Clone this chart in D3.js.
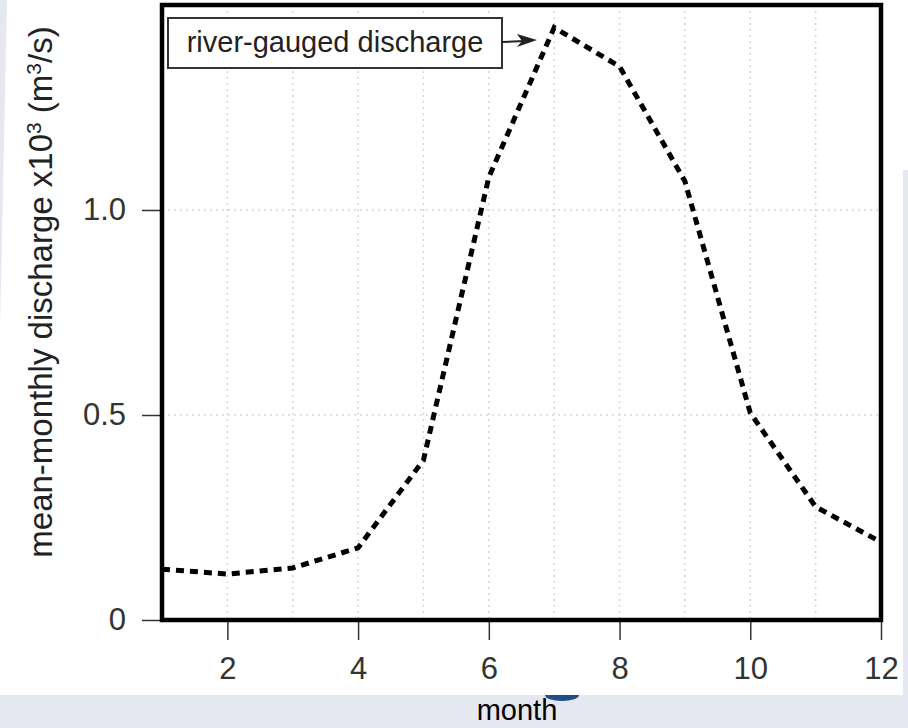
<!DOCTYPE html>
<html>
<head>
<meta charset="utf-8">
<style>
body { margin: 0; background: #e5e7f1; }
text { font-family: "Liberation Sans", Arial, sans-serif; fill: #222; }
.tick line { stroke: #333; stroke-width: 1.5px; }
.tick text { font-size: 31px; fill: #333; }
.grid { stroke: #d6d6d6; stroke-width: 1.5px; stroke-dasharray: 2,4; }
path.flow { fill: none; stroke: #000; stroke-width: 5px; stroke-dasharray: 8,6; }
</style>
</head>
<body>
<script src="https://cdn.jsdelivr.net/npm/d3@7"></script>
<script>

// mean-monthly discharge (x10^3 m^3/s)
var months = [1, 2, 3, 4, 5, 6, 7, 8, 9, 10, 11, 12];
var discharge = [0.124, 0.112, 0.127, 0.176, 0.39, 1.08, 1.445, 1.35, 1.07, 0.505, 0.276, 0.19];

var xTicks = [2, 4, 6, 8, 10, 12];
var yTicks = [0, 0.5, 1.0];
var gridMonths = [2, 3, 4, 5, 6, 7, 8, 9, 10, 11];
var gridLevels = [0.5, 1.0];
var legendLabel = "river-gauged discharge";

var width = 908,
    height = 728;

var svg = d3.select("body").append("svg")
    .attr("width", width)
    .attr("height", height);

// page backdrop (white card on lavender)
svg.append("rect")
    .attr("width", width).attr("height", height)
    .attr("fill", "#e5e7f1");
svg.append("rect")
    .attr("x", 0).attr("y", 0)
    .attr("width", 903).attr("height", 695)
    .attr("fill", "#fff");
svg.append("rect")
    .attr("x", 903).attr("y", 0)
    .attr("width", 5).attr("height", 170)
    .attr("fill", "#fff");
svg.append("polygon")
    .attr("points", "0,0 7,0 0,330")
    .attr("fill", "#e5e7f1");
svg.append("path")
    .attr("d", "M545,695 A17,6 0 0,0 579,695 Z")
    .attr("fill", "#1f4f86");

var x = d3.scaleLinear()
    .domain([1, 12])
    .range([162, 881]);

var y = d3.scaleLinear()
    .domain([0, 1.5])
    .range([620, 5]);

// dotted grid
svg.append("g")
    .selectAll("line")
    .data(gridMonths)
    .enter().append("line")
    .attr("class", "grid")
    .attr("x1", function(d) { return x(d); })
    .attr("x2", function(d) { return x(d); })
    .attr("y1", y.range()[1])
    .attr("y2", y.range()[0]);

svg.append("g")
    .selectAll("line")
    .data(gridLevels)
    .enter().append("line")
    .attr("class", "grid")
    .attr("x1", x.range()[0])
    .attr("x2", x.range()[1])
    .attr("y1", function(d) { return y(d); })
    .attr("y2", function(d) { return y(d); });

// axes
var yAxis = svg.append("g")
    .attr("transform", "translate(" + x.range()[0] + ",0)")
    .call(d3.axisLeft(y)
        .tickValues(yTicks)
        .tickSize(20)
        .tickPadding(16)
        .tickFormat(function(d) { return d === 0 ? "0" : d3.format(".1f")(d); }));
yAxis.select(".domain").remove();

var xAxis = svg.append("g")
    .attr("transform", "translate(0," + y.range()[0] + ")")
    .call(d3.axisBottom(x)
        .tickValues(xTicks)
        .tickSize(20)
        .tickPadding(17));
xAxis.select(".domain").remove();
xAxis.selectAll("text").style("font-family", "'Liberation Sans', Arial, sans-serif");
yAxis.selectAll("text").style("font-family", "'Liberation Sans', Arial, sans-serif");

// the discharge curve
var line = d3.line()
    .x(function(d) { return x(d[0]); })
    .y(function(d) { return y(d[1]); });

svg.append("path")
    .datum(d3.zip(months, discharge))
    .attr("class", "flow")
    .attr("d", line);

// plot frame
svg.append("rect")
    .attr("x", x.range()[0])
    .attr("y", y.range()[1])
    .attr("width", x.range()[1] - x.range()[0])
    .attr("height", y.range()[0] - y.range()[1])
    .attr("fill", "none")
    .attr("stroke", "#000")
    .attr("stroke-width", 4.5);

// legend box + arrow
svg.append("rect")
    .attr("x", 168).attr("y", 18)
    .attr("width", 334).attr("height", 50)
    .attr("fill", "#fff")
    .attr("stroke", "#333")
    .attr("stroke-width", 2);

svg.append("text")
    .attr("x", 335).attr("y", 52)
    .attr("text-anchor", "middle")
    .style("font-size", "29px")
    .text(legendLabel);

svg.append("line")
    .attr("x1", 502).attr("y1", 42)
    .attr("x2", 524).attr("y2", 41)
    .attr("stroke", "#222")
    .attr("stroke-width", 2);

svg.append("path")
    .attr("d", "M537,40 L517,34 L522,41 L517,47 Z")
    .attr("fill", "#222");

// axis titles
var yTitle = svg.append("text")
    .attr("transform", "translate(52,292) rotate(-90)")
    .attr("text-anchor", "middle")
    .style("font-size", "33px");
yTitle.append("tspan").text("mean-monthly discharge x10");
yTitle.append("tspan").attr("baseline-shift", "super").style("font-size", "21px").text("3");
yTitle.append("tspan").text(" (m");
yTitle.append("tspan").attr("baseline-shift", "super").style("font-size", "21px").text("3");
yTitle.append("tspan").text("/s)");

svg.append("text")
    .attr("x", 517).attr("y", 720)
    .attr("text-anchor", "middle")
    .style("font-size", "29px")
    .style("fill", "#000")
    .text("month");

</script>
</body>
</html>
